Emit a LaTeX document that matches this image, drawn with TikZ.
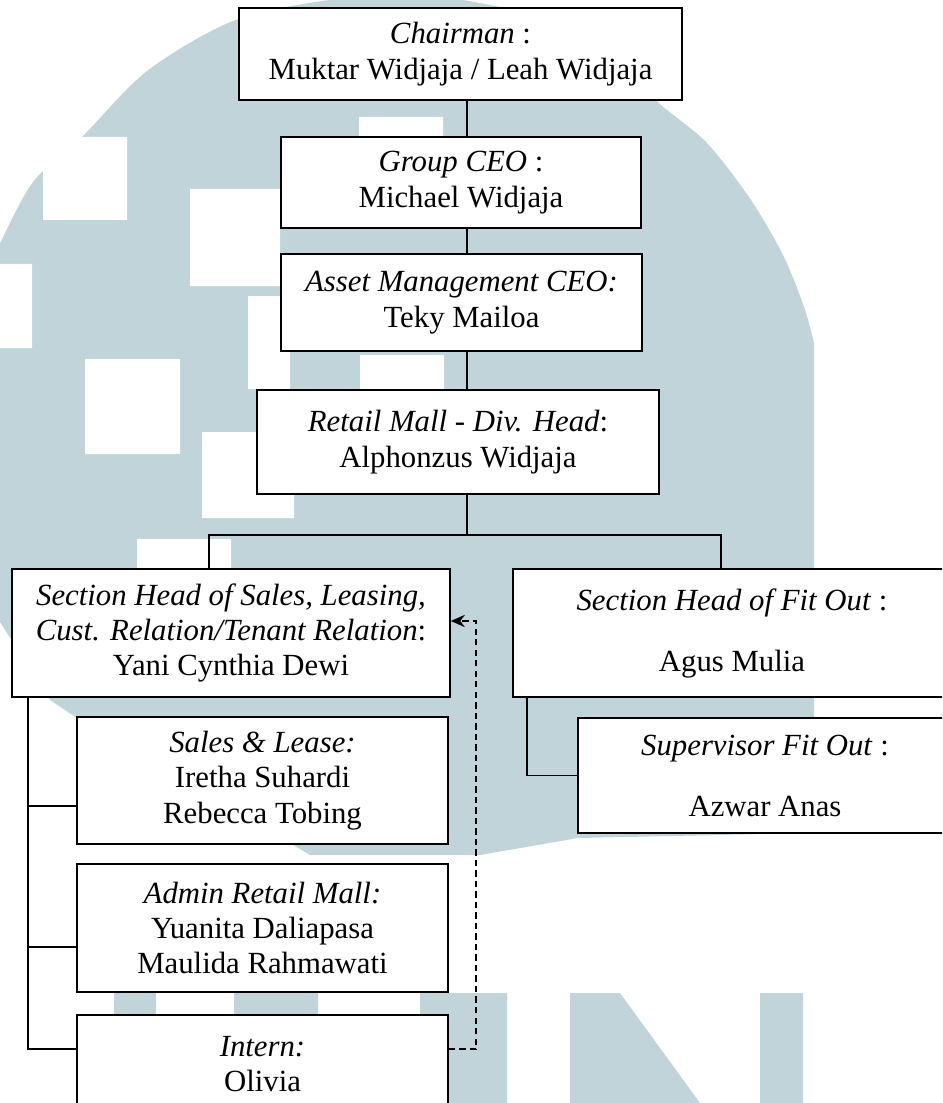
\documentclass[tikz,border=0pt]{standalone}
\usepackage{fontspec}
\setmainfont{Liberation Serif}
\usetikzlibrary{arrows.meta}
\definecolor{wmblue}{RGB}{193,212,218}

\begin{document}
\begin{tikzpicture}[x=0.39pt, y=-0.39pt]
        \tikzset{box/.style={draw, fill=white, line width=0.6pt, align=center, inner sep=0pt, font=\fontsize{12}{13.8}\selectfont},
                 sz/.style 2 args={minimum width=#1*0.39pt, minimum height=#2*0.39pt},
                 link/.style={line width=0.6pt},
                 dlink/.style={line width=0.6pt, dash pattern=on 2.5pt off 1.6pt, -{Stealth[length=5.5pt, width=4.8pt]}}}
        \useasboundingbox (0,0) rectangle (942,1103);
        \clip (0,0) rectangle (942,1103);
        \fill[wmblue] plot[smooth] coordinates {(-5,250) (0,243) (33,182) (83,136) (147,71) (233,21) (330,0) (430,-4) (530,15) (610,55) (660,104) (707,143) (751,200) (784,257) (804,307) (814,343)}
            -- (814,833) -- (578,838) -- (480,855) -- (310,855) -- (77,718) -- (50,700) -- (0,622) -- cycle;
        \fill[white] (43,137) rectangle (127,220) (0,264) rectangle (32,348) (190,189) rectangle (280,286)
            (248,296) rectangle (290,389) (85,359) rectangle (180,454) (202,432) rectangle (294,518)
            (137,539) rectangle (231,600) (359,117) rectangle (443,200) (360,355) rectangle (444,420);
        \fill[wmblue] (114,993) rectangle (156,1103) (234,993) rectangle (318,1103) (420,993) rectangle (507,1103)
            (760,993) rectangle (803,1103);
        \fill[wmblue] (570,993) -- (620,993) -- (700,1103) -- (570,1103) -- cycle;
        \coordinate (trunk) at (467,0);
        \coordinate (fork) at (467,535);
        \coordinate (turn) at (476,621);
        \node[box, sz={443}{92}] (chair) at (460.5,54) {\textit{Chairman} :\\ Muktar Widjaja / Leah Widjaja};
        \node[box, sz={360}{91}] (gceo) at (461,182.5) {\textit{Group CEO} :\\ Michael Widjaja};
        \node[box, sz={361}{97}] (aceo) at (461.5,302.5) {\textit{Asset Management CEO:}\\ Teky Mailoa};
        \node[box, sz={402}{104}] (retail) at (458,442) {\textit{Retail Mall - Div. Head}:\\ Alphonzus Widjaja};
        \node[box, sz={438}{128}] (shs) at (231,633) {\textit{Section Head of Sales, Leasing,}\\ \textit{Cust. Relation/Tenant Relation}:\\ Yani Cynthia Dewi};
        \node[box, sz={438}{128}] (shf) at (732,633) {\textit{Section Head of Fit Out} :\\[10pt] Agus Mulia};
        \node[box, sz={371}{127}] (sl) at (262.5,780.5) {\textit{Sales \& Lease:}\\ Iretha Suhardi\\ Rebecca Tobing};
        \node[box, sz={371}{128}] (adm) at (262.5,928) {\textit{Admin Retail Mall:}\\ Yuanita Daliapasa\\ Maulida Rahmawati};
        \node[box, sz={371}{98}] (intern) at (262.5,1064) {\textit{Intern:}\\ Olivia};
        \node[box, sz={374}{115}] (sup) at (765,775.5) {\textit{Supervisor Fit Out} :\\[10pt] Azwar Anas};
        \draw[link] (chair.south -| trunk) -- (gceo.north -| trunk);
        \draw[link] (gceo.south -| trunk) -- (aceo.north -| trunk);
        \draw[link] (aceo.south -| trunk) -- (retail.north -| trunk);
        \draw[link] (retail.south -| trunk) -- (fork);
        \draw[link] ([shift={(-22,0)}]shs.north) |- (fork) -| ([shift={(-11,0)}]shf.north);
        \draw[link] ([shift={(17,0)}]shs.south west) |- ([shift={(0,25.5)}]sl.west);
        \draw[link] ([shift={(17,0)}]shs.south west) |- ([shift={(0,19)}]adm.west);
        \draw[link] ([shift={(17,0)}]shs.south west) |- ([shift={(0,35)}]intern.north west);
        \draw[link] ([shift={(15,0)}]shf.south west) |- (sup.west);
        \draw[dlink] ([shift={(0,35)}]intern.north east) -| (turn) -- (shs.east |- turn);
    \end{tikzpicture}
\end{document}
